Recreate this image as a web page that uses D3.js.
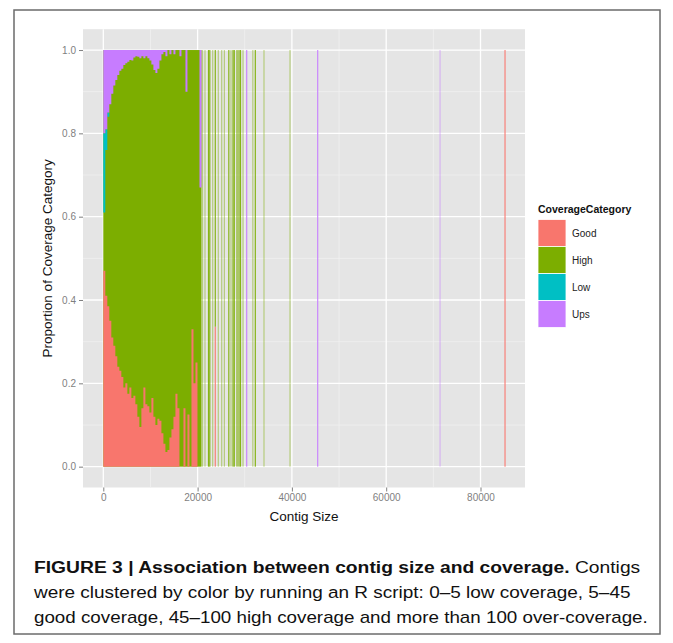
<!DOCTYPE html>
<html><head><meta charset="utf-8">
<script src="https://cdn.jsdelivr.net/npm/d3@7"></script>
<style>body{margin:0;background:#fff} svg{display:block}</style>
</head><body>
<svg id="c" width="673" height="643"></svg>
<script>
// ---------------- DATA ----------------
const categories = ["Good", "High", "Low", "Ups"];
const catColors = ["#F8766D", "#7CAE00", "#00BFC4", "#C77CFF"];

// dense region: contig-size bins (start of bin) and proportion of each category
const denseSize = [0,425,850,1275,1700,2125,2550,2975,3400,3825,4250,4675,5100,5525,5950,6375,6800,7225,7650,8075,8500,8925,9350,9775,10200,10625,11050,11475,11900,12325,12750,13175,13600,14025,14450,14875,15300,15725,16150,16575,17000,17425,17850,18275,18700,19125,19550,19975,20400];
const denseGood = [0.47,0.41,0.385,0.35,0.31,0.29,0.265,0.24,0.23,0.215,0.19,0.20,0.175,0.19,0.165,0.17,0.15,0.12,0.095,0.14,0.19,0.15,0.145,0.13,0.165,0.12,0.10,0.115,0.11,0.08,0.055,0.035,0.04,0.07,0.09,0.12,0.175,0.14,0,0,0.14,0,0.125,0,0.33,0.20,0.25,0,0];
const denseHigh = [0.14,0.35,0.455,0.52,0.585,0.625,0.663,0.70,0.72,0.74,0.774,0.768,0.797,0.786,0.81,0.812,0.835,0.864,0.885,0.845,0.79,0.835,0.835,0.845,0.80,0.832,0.845,0.84,0.865,0.91,0.94,0.95,0.96,0.92,0.91,0.87,0.825,0.86,0.985,1,0.86,0.90,0.875,1,0.67,0.80,0.75,1,0.67];
const denseLow  = [0.19,0.05,0.01,0,0,0,0,0,0,0,0,0,0,0,0,0,0,0,0,0,0,0,0,0,0,0,0,0,0,0,0,0,0,0,0,0,0,0,0,0,0,0,0,0,0,0,0,0,0];
const denseUps  = [0.20,0.19,0.15,0.13,0.105,0.085,0.072,0.06,0.05,0.045,0.036,0.032,0.028,0.024,0.025,0.018,0.015,0.016,0.02,0.015,0.02,0.015,0.02,0.025,0.035,0.048,0.055,0.045,0.025,0.01,0.005,0.015,0,0.01,0,0.01,0,0,0.015,0,0,0.10,0,0,0,0,0,0,0.33];

// sparse region: individual contig sizes, proportions and number of contigs in the pixel
const sparseSize  = [21040,21570,22310,22590,23200,23750,24390,25110,25680,26620,27080,27510,27780,28360,28780,29100,29630,30410,31710,32240,34080,39600,45470,71420,85200];
const sparseGood  = [0,0,0,0,0,0.336,0,0,0,0,0,0,0,0,0,0,0,0,0,0,0,0,0,0,1];
const sparseHigh  = [1,1,1,1,1,0.664,1,1,1,1,1,1,1,1,1,1,1,0,1,1,1,1,0,0,0];
const sparseLow   = [0,0,0,0,0,0,0,0,0,0,0,0,0,0,0,0,0,0,0,0,0,0,0,0,0];
const sparseUps   = [0,0,0,0,0,0,0,0,0,0,0,0,0,0,0,0,0,1,0,0,0,0,1,1,0];
const sparseCount = [1,1,2,2,1,2,1,1,1,2,1,2,2,2,2,2,1,2,1,2,1,1,2,1,2];

const xTicks = [0, 20000, 40000, 60000, 80000];
const xMinor = [10000, 30000, 50000, 70000];
const yTicks = [0, 0.2, 0.4, 0.6, 0.8, 1.0];
const yMinor = [0.1, 0.3, 0.5, 0.7, 0.9];
const binWidth = 425;

const captionLines = [
  [{t: "FIGURE 3 | Association between contig size and coverage.", b: true}, {t: " Contigs", b: false}],
  [{t: "were clustered by color by running an R script: 0\u20135 low coverage, 5\u201345", b: false}],
  [{t: "good coverage, 45\u2013100 high coverage and more than 100 over-coverage.", b: false}]
];

// ---------------- DRAW ----------------
const svg = d3.select("#c");
const font = "'Liberation Sans', Arial, Helvetica, sans-serif";

svg.append("rect").attr("x", 14).attr("y", 10).attr("width", 646).attr("height", 624)
  .attr("fill", "#fff").attr("stroke", "#6b6b6b").attr("stroke-width", 1.5);

const P = {l: 83, r: 525, t: 29.2, b: 487.5};
const x = d3.scaleLinear().domain([-4305, 89437]).range([P.l, P.r]);
const y = d3.scaleLinear().domain([-0.05, 1.05]).range([P.b, P.t]);
const color = d3.scaleOrdinal().domain(categories).range(catColors);

svg.append("rect").attr("x", P.l).attr("y", P.t).attr("width", P.r - P.l).attr("height", P.b - P.t)
  .attr("fill", "#E5E5E5");

const grid = svg.append("g");
grid.selectAll(".vm").data(xMinor).enter().append("line")
  .attr("x1", d => x(d)).attr("x2", d => x(d)).attr("y1", P.t).attr("y2", P.b)
  .attr("stroke", "#F2F2F2").attr("stroke-width", 0.7);
grid.selectAll(".hm").data(yMinor).enter().append("line")
  .attr("y1", d => y(d)).attr("y2", d => y(d)).attr("x1", P.l).attr("x2", P.r)
  .attr("stroke", "#F2F2F2").attr("stroke-width", 0.7);
grid.selectAll(".vM").data(xTicks).enter().append("line")
  .attr("x1", d => x(d)).attr("x2", d => x(d)).attr("y1", P.t).attr("y2", P.b)
  .attr("stroke", "#fff").attr("stroke-width", 1.3);
grid.selectAll(".hM").data(yTicks).enter().append("line")
  .attr("y1", d => y(d)).attr("y2", d => y(d)).attr("x1", P.l).attr("x2", P.r)
  .attr("stroke", "#fff").attr("stroke-width", 1.3);

// dense region drawn as stacked step areas (no seams between bins)
const denseRows = denseSize.map((s, i) => ({size: s, Good: denseGood[i], High: denseHigh[i], Low: denseLow[i], Ups: denseUps[i]}));
const lastRow = denseRows[denseRows.length - 1];
denseRows.push(Object.assign({}, lastRow, {size: lastRow.size + binWidth}));
const series = d3.stack().keys(categories)(denseRows);
const area = d3.area().curve(d3.curveStepAfter)
  .x(d => x(d.data.size)).y0(d => y(d[0])).y1(d => y(d[1]));
// background block in High colour under the stacked layers so nothing shows through
svg.append("rect").attr("x", x(denseSize[0])).attr("width", x(lastRow.size + binWidth) - x(denseSize[0]))
  .attr("y", y(1)).attr("height", y(0) - y(1)).attr("fill", color("High"));
svg.append("g").selectAll("path").data(series.filter(s => s.key !== "High")).enter().append("path")
  .attr("d", area).attr("fill", d => color(d.key));

// sparse thin bars
const sparse = [];
sparseSize.forEach((s, i) => {
  const vals = [sparseGood[i], sparseHigh[i], sparseLow[i], sparseUps[i]];
  let acc = 0;
  vals.forEach((v, k) => {
    if (v > 0) sparse.push({size: s, i, cat: categories[k], y0: acc, y1: acc + v});
    acc += v;
  });
});
svg.append("g").selectAll("rect").data(sparse).enter().append("rect")
  .attr("x", d => x(d.size) - 0.6)
  .attr("width", 1.2)
  .attr("y", d => y(d.y1))
  .attr("height", d => y(d.y0) - y(d.y1))
  .attr("fill", d => color(d.cat))
  .attr("fill-opacity", d => Math.min(1, 0.45 * sparseCount[d.i]));

// axes
const xAxis = svg.append("g").attr("transform", `translate(0,${P.b})`)
  .call(d3.axisBottom(x).tickValues(xTicks).tickFormat(d3.format("d")).tickSize(4).tickPadding(2));
const yAxis = svg.append("g").attr("transform", `translate(${P.l},0)`)
  .call(d3.axisLeft(y).tickValues(yTicks).tickFormat(d3.format(".1f")).tickSize(4).tickPadding(3));
[xAxis, yAxis].forEach(a => {
  a.select(".domain").remove();
  a.selectAll(".tick line").attr("stroke", "#7F7F7F").attr("stroke-width", 1);
  a.selectAll(".tick text").attr("fill", "#7F7F7F").style("font-family", font).style("font-size", "10px");
});

svg.append("text").attr("x", (P.l + P.r) / 2).attr("y", 521).attr("text-anchor", "middle")
  .style("font-family", font).style("font-size", "13.5px").attr("fill", "#111").text("Contig Size");
svg.append("text").attr("transform", `translate(52,${(P.t + P.b) / 2}) rotate(-90)`).attr("text-anchor", "middle")
  .style("font-family", font).style("font-size", "13.5px").attr("fill", "#111").text("Proportion of Coverage Category");

// legend
const lg = svg.append("g").attr("transform", "translate(538,0)");
lg.append("text").attr("x", 0).attr("y", 213).style("font-family", font).style("font-size", "10.5px")
  .style("font-weight", "bold").attr("fill", "#111").text("CoverageCategory");
const keyH = 27, keyW = 28, key0 = 219.5;
categories.forEach((c, k) => {
  lg.append("rect").attr("x", 0).attr("y", key0 + k * keyH).attr("width", keyW).attr("height", keyH)
    .attr("fill", color(c)).attr("stroke", "#fff").attr("stroke-width", 0.8);
  lg.append("text").attr("x", keyW + 6).attr("y", key0 + k * keyH + keyH / 2 + 3.5)
    .style("font-family", font).style("font-size", "10px").attr("fill", "#222").text(c);
});

// caption
const capTargets = [607, 597, 614];
captionLines.forEach((line, li) => {
  const t = svg.append("text").attr("x", 34).attr("y", 573 + li * 25)
    .style("font-family", font).style("font-size", "17px").attr("fill", "#111");
  line.forEach(seg => t.append("tspan").style("font-weight", seg.b ? "bold" : "normal").text(seg.t));
  const w = t.node().getComputedTextLength();
  const s = capTargets[li] / w;
  t.attr("transform", `translate(34,0) scale(${s},1) translate(-34,0)`);
});
</script>
</body></html>
